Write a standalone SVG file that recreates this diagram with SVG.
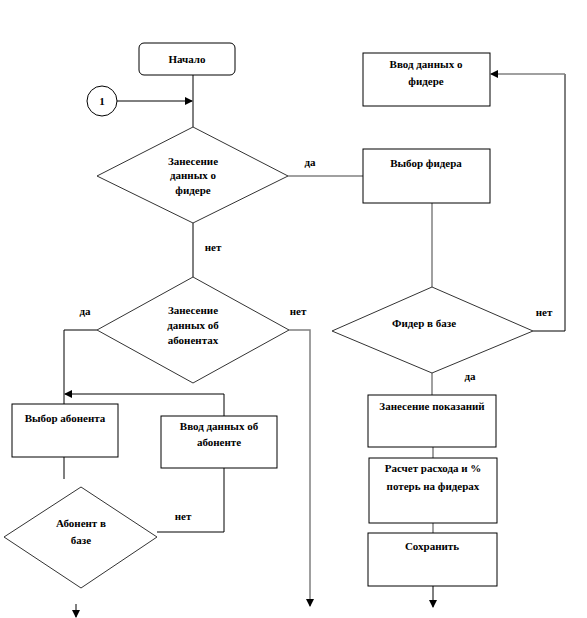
<svg xmlns="http://www.w3.org/2000/svg" width="587" height="618" viewBox="0 0 587 618">
<style>
.box{fill:#fff;stroke:#000;stroke-width:1}
.dia{fill:#fff;stroke:#333;stroke-width:1}
.ln{fill:none;stroke:#000;stroke-width:1}
.gl{fill:none;stroke:#808080;stroke-width:1.5}
.t{font-family:'Liberation Serif','DejaVu Serif',serif;font-weight:bold;font-size:11px;fill:#000;text-anchor:middle}
</style>
<defs>
<marker id="ah" markerWidth="8" markerHeight="8" refX="7" refY="4" orient="auto" markerUnits="userSpaceOnUse">
<path d="M0,0 L8,4 L0,8 Z" fill="#000"/>
</marker>
</defs>
<rect width="587" height="618" fill="#fff"/>
<g id="connectors">
<line class="ln" x1="193" y1="75" x2="193" y2="127"/>
<line class="ln" x1="117" y1="101" x2="192" y2="101" marker-end="url(#ah)"/>
<line class="gl" x1="288" y1="176" x2="363" y2="176"/>
<line class="ln" x1="193" y1="223" x2="193" y2="277"/>
<polyline class="ln" points="97,330 64,330 64,404"/>
<polyline class="gl" points="289,330 310,330 310,606" marker-end="url(#ah)"/>
<line class="ln" x1="64" y1="457" x2="64" y2="479"/>
<polyline class="ln" points="157,532 224,532 224,468"/>
<polyline class="ln" points="224,416 224,394 65,394" marker-end="url(#ah)"/>
<line class="ln" x1="76" y1="604" x2="76" y2="617" marker-end="url(#ah)"/>
<line class="gl" x1="432" y1="203" x2="432" y2="287"/>
<polyline class="ln" points="533,331 565,331 565,74"/>
<line class="gl" x1="565" y1="74" x2="491" y2="74" marker-end="url(#ah)"/>
<line class="gl" x1="432" y1="373" x2="432" y2="395"/>
<line class="gl" x1="433" y1="447" x2="433" y2="458"/>
<line class="gl" x1="433" y1="523" x2="433" y2="533"/>
<line class="ln" x1="433" y1="586" x2="433" y2="607" marker-end="url(#ah)"/>
</g>
<g class="t" font-family="Liberation Serif, serif">
<g id="n-start">
<rect class="box" x="139" y="43" width="96" height="32" rx="5"/>
<text x="187" y="63">Начало</text>
</g>
<g id="n-conn1">
<circle class="box" cx="102" cy="101" r="15"/>
<text x="102" y="105">1</text>
</g>
<g id="n-d1">
<polygon class="dia" points="193,127 288,176 193,223 97,176"/>
<text x="193" y="165">Занесение</text>
<text x="193" y="179">данных о</text>
<text x="193" y="194">фидере</text>
</g>
<g id="n-d2">
<polygon class="dia" points="193,277 289,330 193,383 97,330"/>
<text x="193" y="314">Занесение</text>
<text x="193" y="329">данных об</text>
<text x="193" y="344">абонентах</text>
</g>
<g id="n-sel-ab">
<rect class="box" x="12" y="404" width="106" height="53"/>
<text x="65" y="422">Выбор абонента</text>
</g>
<g id="n-in-ab">
<rect class="box" x="161" y="416" width="116" height="52"/>
<text x="219" y="430">Ввод данных об</text>
<text x="219" y="446">абоненте</text>
</g>
<g id="n-d3">
<polygon class="dia" points="81,487 157,537 81,588 4,537"/>
<text x="81" y="527">Абонент в</text>
<text x="81" y="544">базе</text>
</g>
<g id="n-in-f">
<rect class="box" x="363" y="53" width="127" height="53"/>
<text x="426" y="68">Ввод данных о</text>
<text x="426" y="85">фидере</text>
</g>
<g id="n-sel-f">
<rect class="box" x="363" y="149" width="127" height="54"/>
<text x="426" y="167">Выбор фидера</text>
</g>
<g id="n-d4">
<polygon class="dia" points="432,287 533,331 432,373 332,331"/>
<text x="424" y="327">Фидер в базе</text>
</g>
<g id="n-zp">
<rect class="box" x="368" y="395" width="128" height="52"/>
<text x="432" y="410">Занесение показаний</text>
</g>
<g id="n-calc">
<rect class="box" x="369" y="458" width="128" height="65"/>
<text x="433" y="472">Расчет расхода и %</text>
<text x="433" y="490">потерь на фидерах</text>
</g>
<g id="n-save">
<rect class="box" x="368" y="533" width="129" height="53"/>
<text x="432" y="550">Сохранить</text>
</g>
<g id="labels">
<text x="310" y="166">да</text>
<text x="213" y="251">нет</text>
<text x="85" y="315">да</text>
<text x="298" y="315">нет</text>
<text x="183" y="520">нет</text>
<text x="544" y="316">нет</text>
<text x="470" y="380">да</text>
</g>
</g>
</svg>
